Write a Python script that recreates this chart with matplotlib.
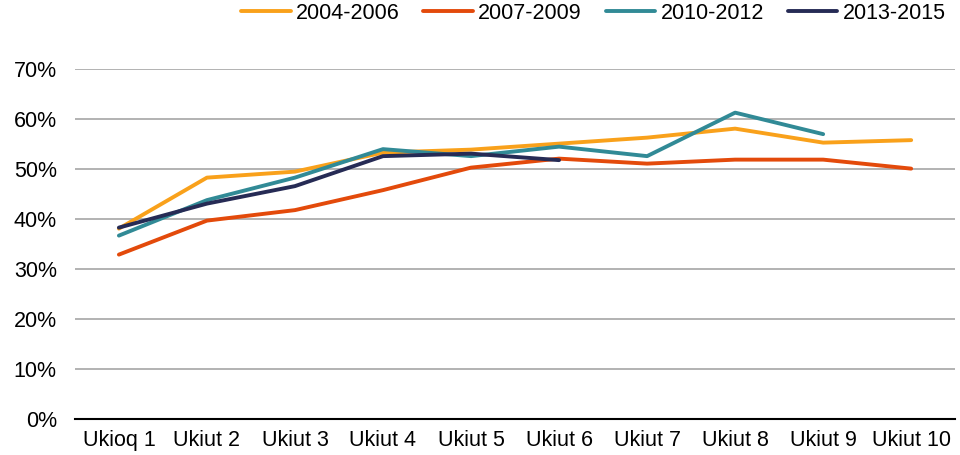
import matplotlib
matplotlib.use("Agg")
import matplotlib.pyplot as plt
import numpy as np

plt.rcParams['font.family'] = ['Liberation Sans', 'DejaVu Sans']

# Data (share, %)
categories = ["Ukioq 1", "Ukiut 2", "Ukiut 3", "Ukiut 4", "Ukiut 5",
              "Ukiut 6", "Ukiut 7", "Ukiut 8", "Ukiut 9", "Ukiut 10"]
s_2004_2006 = [38.1, 48.3, 49.5, 53.3, 53.9, 55.1, 56.3, 58.1, 55.3, 55.8]
s_2007_2009 = [32.9, 39.7, 41.8, 45.8, 50.3, 52.1, 51.1, 51.9, 51.9, 50.1]
s_2010_2012 = [36.7, 43.8, 48.3, 54.0, 52.6, 54.5, 52.6, 61.3, 57.0]
s_2013_2015 = [38.3, 43.1, 46.6, 52.6, 53.1, 51.8]

series = [
    ("2004-2006", s_2004_2006, "#F9A11B"),
    ("2007-2009", s_2007_2009, "#E34A0B"),
    ("2010-2012", s_2010_2012, "#318A96"),
    ("2013-2015", s_2013_2015, "#262B55"),
]

fig = plt.figure(figsize=(9.6, 4.55), dpi=100)
ax = fig.add_axes([0.078, 0.079, 0.917, 0.769])

x = np.arange(len(categories))
for name, vals, col in series:
    ax.plot(x[:len(vals)], np.array(vals) / 100, color=col, lw=2.8,
            label=name, solid_capstyle="round", solid_joinstyle="round")

ax.set_xlim(-0.5, len(categories) - 0.5)
ax.set_ylim(0, 0.7)
ax.set_yticks(np.arange(0, 0.71, 0.1))
ax.set_yticklabels([f"{int(round(v * 100))}%" for v in np.arange(0, 0.71, 0.1)])
ax.set_xticks(x)
ax.set_xticklabels(categories)
ax.tick_params(axis="both", length=0, labelsize=15.5, colors="black")
ax.tick_params(axis="y", pad=13)
ax.tick_params(axis="x", pad=8)
ax.grid(axis="y", color="#A6A6A6", lw=1.2)
ax.set_axisbelow(True)
for side in ["top", "right", "left"]:
    ax.spines[side].set_visible(False)
ax.spines["bottom"].set_color("black")
ax.spines["bottom"].set_linewidth(1.5)
ax.spines["bottom"].set_zorder(5)

ax.legend(loc="upper right", bbox_to_anchor=(1.011, 1.245), ncol=4, frameon=False,
          fontsize=15.5, handlelength=2.3, handletextpad=0.25, columnspacing=1.1)

fig.savefig("out.png", dpi=100)
